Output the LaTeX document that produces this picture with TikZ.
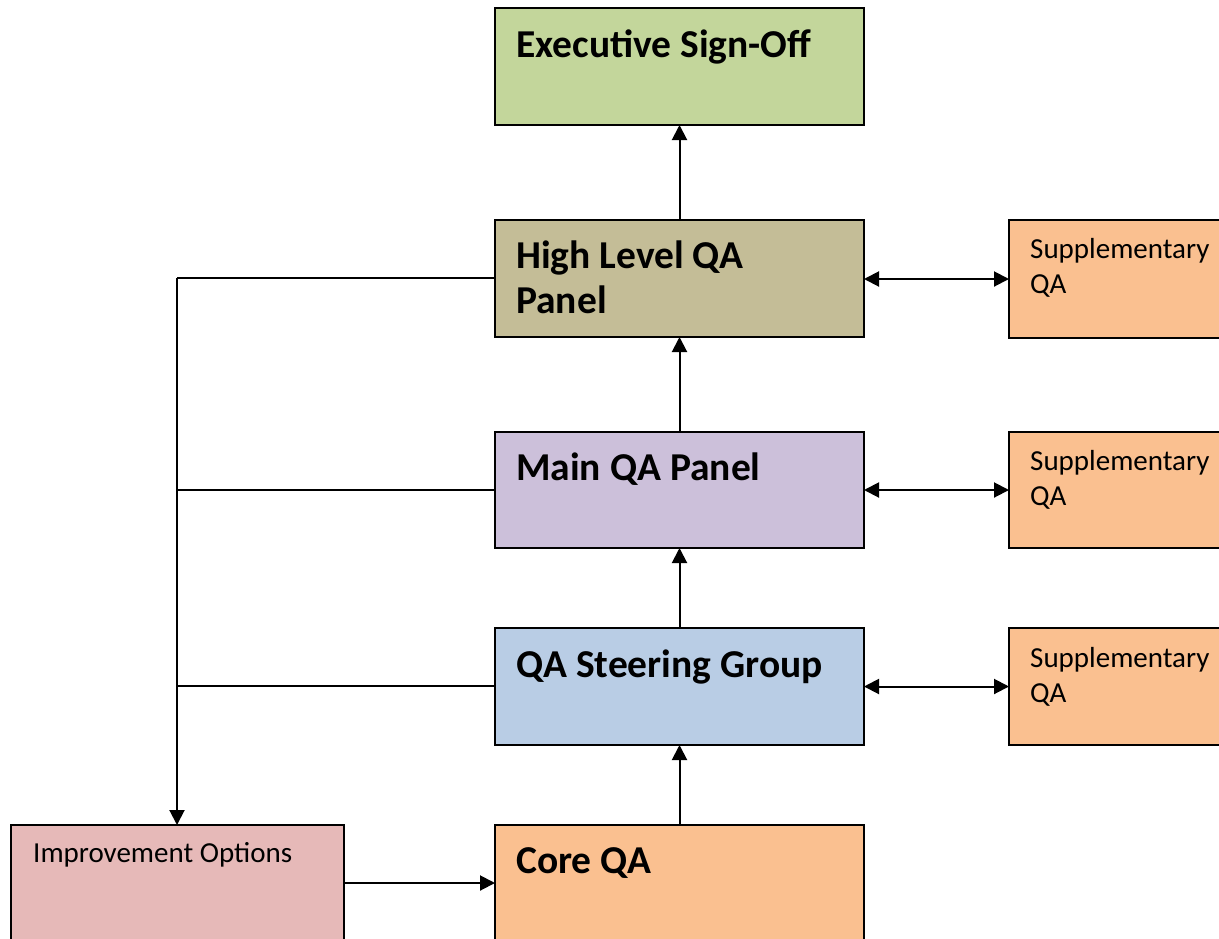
\documentclass[tikz,border=0pt]{standalone}
\usepackage{fontspec}
\setmainfont{Carlito}
\usetikzlibrary{arrows.meta}
\definecolor{cexec}{HTML}{C3D69B}
\definecolor{chigh}{HTML}{C4BD97}
\definecolor{cmain}{HTML}{CCC0DA}
\definecolor{csteer}{HTML}{B9CDE5}
\definecolor{corange}{HTML}{FAC090}
\definecolor{cimpr}{HTML}{E6B9B8}
\tikzset{
  boxshape/.style={draw=black, line width=1.8pt, inner sep=0pt, outer sep=0pt},
  bigtxt/.style={anchor=base west, inner sep=0pt, font=\fontsize{39.5}{45}\selectfont\bfseries, align=left},
  smalltxt/.style={anchor=base west, inner sep=0pt, font=\fontsize{29}{35}\selectfont, align=left},
  conn/.style={draw=black, line width=2pt},
  arr/.style={conn, -{Triangle[length=15pt,width=15pt]}},
  darr/.style={conn, {Triangle[length=15pt,width=15pt]}-{Triangle[length=15pt,width=15pt]}},
}
\begin{document}
\begin{tikzpicture}[x=1pt,y=-1pt]
\useasboundingbox (0,0) rectangle (1219,938);
\clip (0,0) rectangle (1219,938);
\fill[white] (0,0) rectangle (1219,938);
% boxes
\node[boxshape, fill=cexec, minimum width=369pt, minimum height=117pt, anchor=north west] (exec) at (495,8) {};
\node[boxshape, fill=chigh, minimum width=369pt, minimum height=117pt, anchor=north west] (high) at (495,220) {};
\node[boxshape, fill=cmain, minimum width=369pt, minimum height=116pt, anchor=north west] (main) at (495,432) {};
\node[boxshape, fill=csteer, minimum width=369pt, minimum height=117pt, anchor=north west] (steer) at (495,628) {};
\node[boxshape, fill=corange, minimum width=369pt, minimum height=140pt, anchor=north west] (core) at (495,825) {};
\node[boxshape, fill=cimpr, minimum width=333pt, minimum height=140pt, anchor=north west] (impr) at (11,825) {};
\node[boxshape, fill=corange, minimum width=230pt, minimum height=118pt, anchor=north west] (supA) at (1009,220) {};
\node[boxshape, fill=corange, minimum width=230pt, minimum height=116pt, anchor=north west] (supB) at (1009,432) {};
\node[boxshape, fill=corange, minimum width=230pt, minimum height=117pt, anchor=north west] (supC) at (1009,628) {};
% texts (base = baseline of last line)
\node[bigtxt] (texec) at (516,57) {Executive Sign-Off};
\node[bigtxt] (thigh) at (516,313) {High Level QA\\Panel};
\node[bigtxt] (tmain) at (516,480) {Main QA Panel};
\node[bigtxt] (tsteer) at (516,677) {QA Steering Group};
\node[bigtxt] (tcore) at (516,873) {Core QA};
\node[smalltxt] (timpr) at (33,862) {Improvement Options};
\node[smalltxt] (tsupA) at (1030,293) {Supplementary\\QA};
\node[smalltxt] (tsupB) at (1030,505) {Supplementary\\QA};
\node[smalltxt] (tsupC) at (1030,702) {Supplementary\\QA};
% coordinates
\coordinate (jHigh) at (177,278);
\coordinate (jMain) at (177,490);
\coordinate (jSteer) at (177,686);
% vertical chain
\draw[arr] (high.north) -- (exec.south);
\draw[arr] (main.north) -- (high.south);
\draw[arr] (steer.north) -- (main.south);
\draw[arr] (core.north) -- (steer.south);
% side links
\draw[darr] (high.east |- 0,279) -- (supA.west |- 0,279);
\draw[darr] (main.east) -- (supB.west);
\draw[darr] (steer.east) -- (supC.west);
% left feedback
\draw[conn] (high.west |- jHigh) -- (jHigh);
\draw[arr] (jHigh) -- (jHigh |- impr.north);
\draw[conn] (main.west |- jMain) -- (jMain);
\draw[conn] (steer.west |- jSteer) -- (jSteer);
\draw[arr] (impr.east |- 0,883) -- (core.west |- 0,883);
\end{tikzpicture}
\end{document}
